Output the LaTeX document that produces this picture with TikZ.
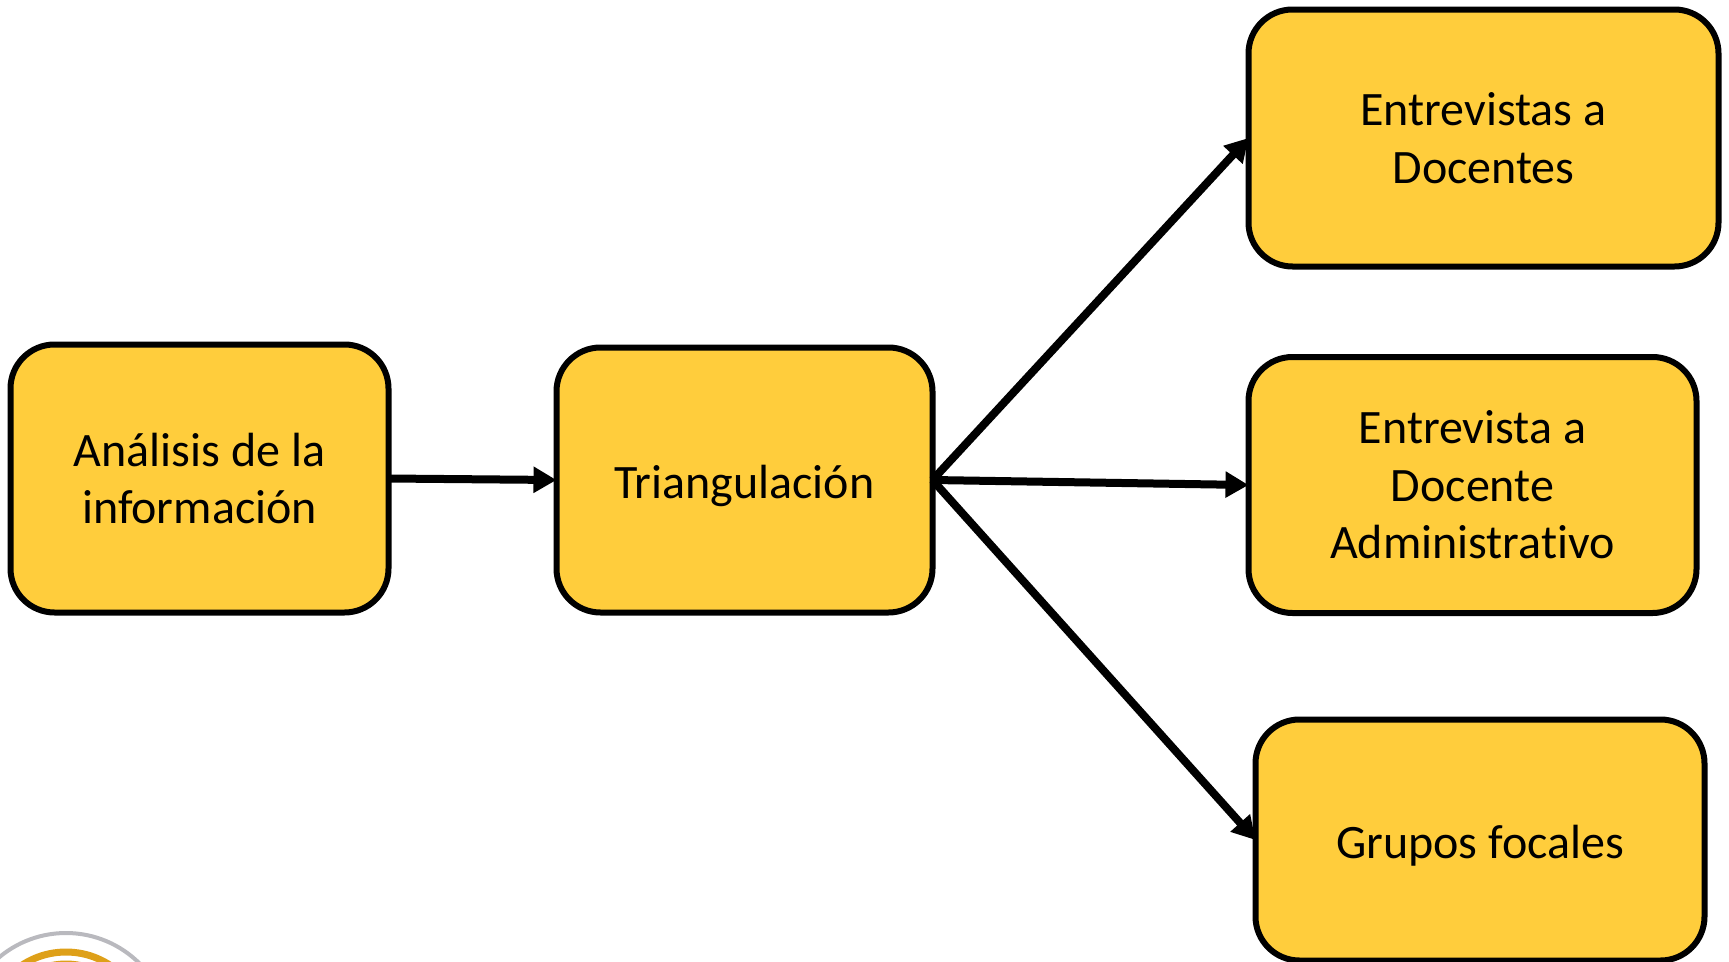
\documentclass[tikz,border=0pt]{standalone}
\usepackage{fontspec}
\setmainfont{Carlito}[Ligatures=NoCommon]
\usepackage{xcolor}
\usetikzlibrary{arrows.meta,positioning}
\definecolor{boxyellow}{RGB}{255,205,60}
\definecolor{logoorange}{RGB}{222,160,25}
\definecolor{logogray}{RGB}{185,185,190}
\tikzstyle{process} = [rectangle, rounded corners=44pt, text centered, align=center, draw=black, fill=boxyellow, line width=6pt, outer sep=0pt, font=\fontsize{48}{57.5}\selectfont]
\tikzstyle{arrow} = [line width=8pt,-{Triangle[length=23pt,width=25pt]},color=black]

\begin{document}
\begin{tikzpicture}[x=1pt,y=-1pt]
\useasboundingbox (0,0) rectangle (1729,961);
% Logo at the corner
\begin{scope}
\clip (0,0) rectangle (1729,961);
\draw[logogray, line width=4pt] (66,1037) circle (104);
\draw[logoorange, line width=7pt] (66,1032) circle (80);
\draw[logoorange, line width=3pt] (66,1032) circle (70);
\end{scope}
% Main boxes
\node[process, minimum width=378pt, minimum height=268pt] (analisis) at (199.5,478.5) {Análisis de la\\información};
\node[process, minimum width=376pt, minimum height=265pt] (triang) at (744.5,480) {\raisebox{-18pt}[0pt][0pt]{Triangulación}};
\node[process, minimum width=470pt, minimum height=257pt] (docentes) at (1483.5,138) {Entrevistas a\\Docentes};
\node[process, minimum width=448pt, minimum height=256pt] (admin) at (1472.5,485) {Entrevista a\\Docente\\Administrativo};
\node[process, minimum width=449pt, minimum height=241pt] (grupos) at (1480,840) {\raisebox{-18pt}[0pt][0pt]{Grupos focales}};

\draw[arrow] (analisis.east) -- (triang.west);
\draw[arrow] (triang.east) -- (docentes.west);
\draw[arrow] (triang.east) -- (admin.west);
\draw[arrow] (triang.east) -- (grupos.west);
\end{tikzpicture}
\end{document}
